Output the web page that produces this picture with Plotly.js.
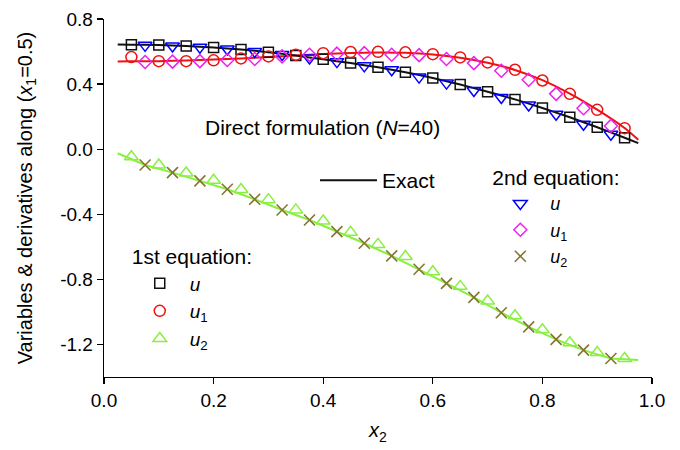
<!DOCTYPE html>
<html>
<head>
<meta charset="utf-8">
<script src="https://cdn.plot.ly/plotly-3.0.1.min.js"></script>
<style>html,body{margin:0;padding:0;background:#fff;}#chart{width:680px;height:450px;}</style>
</head>
<body>
<div id="chart"></div>
<script>
// ---- data ----
var xA = [0.05,0.10,0.15,0.20,0.25,0.30,0.35,0.40,0.45,0.50,0.55,0.60,0.65,0.70,0.75,0.80,0.85,0.90,0.95];
var xB = [0.075,0.125,0.175,0.225,0.275,0.325,0.375,0.425,0.475,0.525,0.575,0.625,0.675,0.725,0.775,0.825,0.875,0.925];

// 1st equation
var eq1_u  = [0.642,0.640,0.634,0.625,0.612,0.596,0.575,0.552,0.529,0.503,0.473,0.437,0.397,0.353,0.306,0.253,0.196,0.135,0.070];
var eq1_u1 = [0.566,0.541,0.541,0.546,0.558,0.570,0.580,0.590,0.597,0.598,0.595,0.584,0.564,0.533,0.488,0.422,0.340,0.242,0.129];
var eq1_u2 = [-0.047,-0.097,-0.146,-0.191,-0.248,-0.310,-0.373,-0.441,-0.511,-0.585,-0.659,-0.753,-0.843,-0.933,-1.024,-1.110,-1.190,-1.249,-1.286];

// 2nd equation
var eq2_u  = [0.638,0.634,0.627,0.616,0.600,0.582,0.560,0.538,0.512,0.488,0.443,0.406,0.361,0.318,0.272,0.215,0.153,0.092];
var eq2_u1 = [0.536,0.538,0.541,0.548,0.554,0.570,0.580,0.587,0.590,0.580,0.578,0.554,0.529,0.482,0.427,0.340,0.252,0.143];
var eq2_u2 = [-0.097,-0.144,-0.195,-0.246,-0.308,-0.374,-0.435,-0.507,-0.578,-0.656,-0.738,-0.825,-0.911,-1.005,-1.092,-1.169,-1.235,-1.286];

// exact solution curves
var exX_u  = [0.025,0.05,0.10,0.15,0.20,0.25,0.30,0.35,0.40,0.45,0.50,0.55,0.60,0.65,0.70,0.75,0.80,0.85,0.90,0.95,0.975];
var ex_u   = [0.643,0.642,0.640,0.634,0.625,0.612,0.596,0.575,0.552,0.529,0.503,0.473,0.437,0.397,0.353,0.306,0.253,0.196,0.135,0.070,0.037];
var exX_u1 = [0.025,0.05,0.10,0.15,0.20,0.25,0.30,0.35,0.40,0.45,0.50,0.55,0.60,0.65,0.70,0.75,0.80,0.85,0.90,0.95,0.975];
var ex_u1  = [0.539,0.540,0.541,0.545,0.551,0.558,0.567,0.576,0.585,0.591,0.594,0.592,0.582,0.562,0.531,0.487,0.424,0.342,0.243,0.130,0.058];
var exX_u2 = [0.025,0.075,0.125,0.175,0.225,0.275,0.325,0.375,0.425,0.475,0.525,0.575,0.625,0.675,0.725,0.775,0.825,0.875,0.925,0.975];
var ex_u2  = [-0.025,-0.097,-0.144,-0.195,-0.246,-0.308,-0.374,-0.435,-0.507,-0.578,-0.656,-0.738,-0.825,-0.911,-1.005,-1.092,-1.169,-1.235,-1.286,-1.296];

var xTicks = [0,0.2,0.4,0.6,0.8,1.0];
var xTickText = ['0.0','0.2','0.4','0.6','0.8','1.0'];
var yTicks = [0.8,0.4,0.0,-0.4,-0.8,-1.2];
var yTickText = ['0.8','0.4','0.0','-0.4','-0.8','-1.2'];

var FONT = 'Liberation Sans, Arial, Helvetica, sans-serif';
var C = {blk:'#111111', red:'#ee1111', grn:'#88f040', blu:'#0000ff', mag:'#ee22ee', olv:'#857530'};

var traces = [
  {x: exX_u2, y: ex_u2, mode:'lines', line:{color:C.grn, width:2}, showlegend:false, hoverinfo:'skip'},
  {x: exX_u1, y: ex_u1, mode:'lines', line:{color:C.red, width:2, shape:'spline', smoothing:0.5}, showlegend:false, hoverinfo:'skip'},
  {x: exX_u,  y: ex_u,  mode:'lines', line:{color:C.blk, width:2, shape:'spline', smoothing:0.5}, name:'Exact', legend:'legend3'},

  {x: xA, y: eq1_u,  mode:'markers', name:'<i>u</i>', legend:'legend',
   marker:{symbol:'square-open', size:10, color:C.blk, line:{width:1.5}}},
  {x: xA, y: eq1_u1, mode:'markers', name:'<i>u</i><sub>1</sub>', legend:'legend',
   marker:{symbol:'circle-open', size:11, color:C.red, line:{width:1.5}}},
  {x: xA, y: eq1_u2, mode:'markers', name:'<i>u</i><sub>2</sub>', legend:'legend',
   marker:{symbol:'triangle-up-open', size:12, color:C.grn, line:{width:1.5}}},

  {x: xB, y: eq2_u,  mode:'markers', name:'<i>u</i>', legend:'legend2',
   marker:{symbol:'triangle-down-open', size:12, color:C.blu, line:{width:1.5}}},
  {x: xB, y: eq2_u1, mode:'markers', name:'<i>u</i><sub>1</sub>', legend:'legend2',
   marker:{symbol:'diamond-open', size:10, color:C.mag, line:{width:1.5}}},
  {x: xB, y: eq2_u2, mode:'markers', name:'<i>u</i><sub>2</sub>', legend:'legend2',
   marker:{symbol:'x-thin-open', size:11, color:C.olv, line:{width:1.6}}}
];

var legBase = {bgcolor:'rgba(0,0,0,0)', borderwidth:0, font:{family:FONT, size:19, color:'#000'},
  xanchor:'left', yanchor:'top', itemwidth:50, tracegroupgap:0, traceorder:'normal'};

var layout = {
  width:680, height:450,
  margin:{l:104, r:28, t:19, b:73},
  paper_bgcolor:'#fff', plot_bgcolor:'#fff',
  font:{family:FONT, size:19, color:'#000'},
  xaxis:{range:[0,1], tickvals:xTicks, ticktext:xTickText, ticks:'outside', ticklen:6, tickwidth:1.3,
    tickcolor:'#000', showline:true, linecolor:'#000', linewidth:1.3, showgrid:false, zeroline:false,
    tickfont:{size:19},
    title:{text:'<i>x</i><sub>2</sub>', font:{size:20}, standoff:13}},
  yaxis:{range:[-1.4,0.8], tickvals:yTicks, ticktext:yTickText, ticks:'outside', ticklen:6, tickwidth:1.3,
    tickcolor:'#000', showline:true, linecolor:'#000', linewidth:1.3, showgrid:false, zeroline:false,
    tickfont:{size:19},
    title:{text:'Variables & derivatives along (<i>x</i><sub>1</sub>=0.5)', font:{size:20}, standoff:22}},
  legend: Object.assign({}, legBase, {x:0.047, y:0.391, title:{text:'1st equation:', font:{size:21}}}),
  legend2: Object.assign({}, legBase, {x:0.705, y:0.612, font:{family:FONT, size:18, color:'#000'}, title:{text:'2nd equation:', font:{size:21}}}),
  legend3: Object.assign({}, legBase, {x:0.385, y:0.606, itemwidth:57, font:{family:FONT, size:21, color:'#000'}}),
  annotations:[
    {xref:'paper', yref:'paper', x:0.398, y:0.696, xanchor:'center', yanchor:'middle', showarrow:false,
     text:'Direct formulation (<i>N</i>=40)', font:{family:FONT, size:21, color:'#000'}}
  ]
};

Plotly.newPlot('chart', traces, layout, {displayModeBar:false, staticPlot:true});
</script>
</body>
</html>
